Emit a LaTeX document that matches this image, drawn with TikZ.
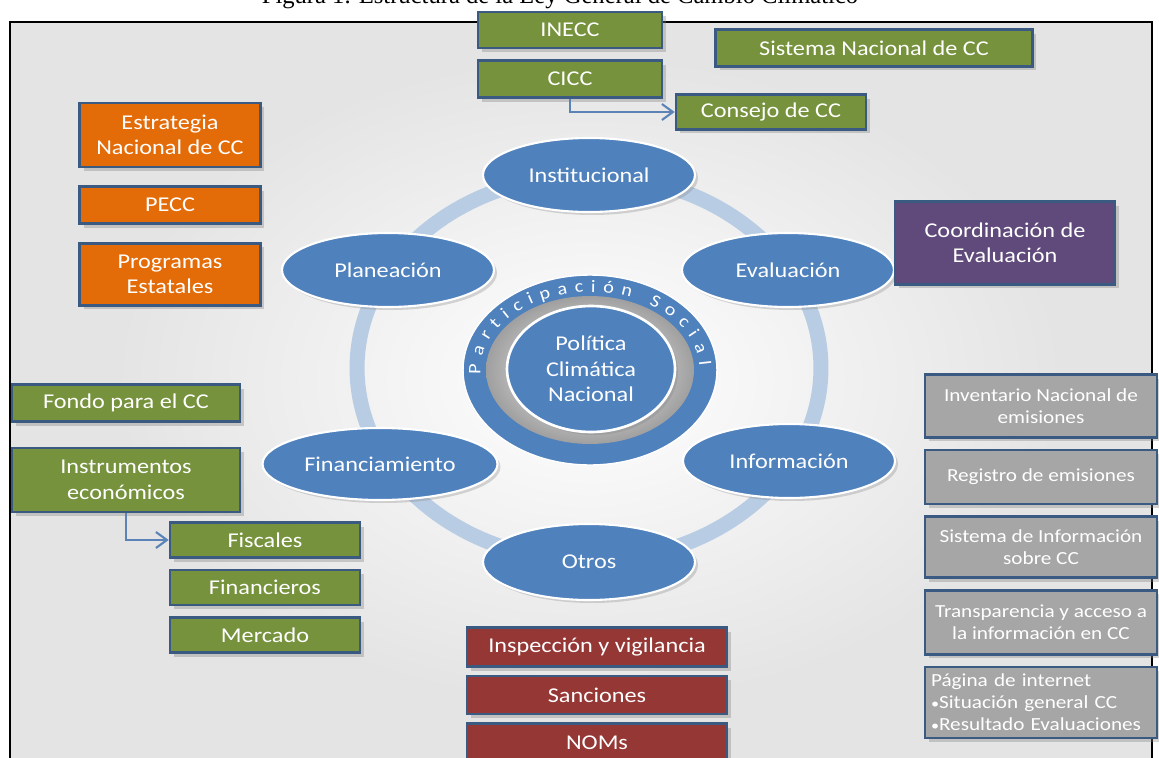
\documentclass[tikz,border=0pt,12pt]{standalone}
\usepackage{fontspec}
\setmainfont{Carlito}[FakeStretch=1.15]
\newfontfamily\captionfont{Liberation Serif}
\usetikzlibrary{positioning}
\usetikzlibrary{shapes.geometric}
\usetikzlibrary{shadows}
\usetikzlibrary{decorations.text}
\usetikzlibrary{arrows.meta}
\definecolor{lawgreen}{HTML}{76923C}
\definecolor{laworange}{HTML}{E36C09}
\definecolor{lawpurple}{HTML}{604A7B}
\definecolor{lawred}{HTML}{953735}
\definecolor{lawgray}{HTML}{A6A6A6}
\definecolor{edgeblue}{HTML}{3B5A82}
\definecolor{pillarblue}{HTML}{4F81BD}
\definecolor{ringblue}{HTML}{B8CCE4}
\definecolor{arrowblue}{HTML}{5B83B8}
\definecolor{bgray}{HTML}{E4E4E4}
\tikzset{
  box/.style={
    draw=edgeblue,
    rectangle,
    line width=1.5pt,
    text=white,
    align=center,
    inner sep=2pt,
    node font=\normalsize,
    drop shadow={shadow xshift=0.8mm,shadow yshift=-0.8mm,opacity=0.35},
  },
  institution/.style={
    box,
    fill=lawgreen,
  },
  planning/.style={
    box,
    fill=laworange,
    minimum width=3.62cm,
  },
  evaluation/.style={
    box,
    fill=lawpurple,
  },
  information/.style={
    box,
    fill=lawgray,
    minimum width=4.64cm,
    node font=\fontsize{10.5}{12.5}\selectfont,
  },
  enforcement/.style={
    box,
    fill=lawred,
    minimum width=5.2cm,
  },
  pillar/.style={
    ellipse,
    draw=white,
    fill=pillarblue,
    line width=1.2pt,
    text=white,
    minimum width=4.24cm,
    minimum height=1.48cm,
    node font=\normalsize,
    drop shadow={shadow xshift=0.6mm,shadow yshift=-0.6mm,opacity=0.3},
  },
  core/.style={
    pillar,
    minimum width=3.36cm,
    minimum height=2.52cm,
    align=center,
    line width=1.5pt,
    inner sep=0,
  },
  flow/.style={
    draw=arrowblue,
    >={Straight Barb[length=2.2mm,width=3.2mm]},
    ->,
    line width=1.2pt,
  },
  caption/.style={
    node font=\captionfont\fontsize{14}{16}\selectfont,
    inner sep=0,
  }
}

\begin{document}
\begin{tikzpicture}[x=0.02cm,y=-0.02cm]
  \useasboundingbox (0,0) rectangle (1159,757);
  \clip (0,0) rectangle (1159,757);

  \node (caption) [caption,anchor=base] at (560,4) {Figura 1. Estructura de la Ley General de Cambio Climático};

  % fondo y marco
  \fill [bgray] (10,22) rectangle (1152,790);
  \shade [inner color=white,outer color=bgray] (589,380) ellipse [x radius=9.5cm,y radius=6.5cm];
  \draw [black,line width=0.8pt] (10,790) -- (10,22) -- (1152,22) -- (1152,790);

  % anillo y centro
  \draw [ringblue,line width=0.3cm] (589,368) ellipse [x radius=4.64cm,y radius=3.86cm];
  \fill [pillarblue,draw=white,line width=0.8pt] (590,370) ellipse [x radius=2.54cm,y radius=1.9cm];
  \shade [inner color=white,outer color=gray!75] (590,370) ellipse [x radius=2.08cm,y radius=1.48cm];
  \node (core) [core] at (591,369) {Política\\Climática\\Nacional};
  \begin{scope}[shift={(590,370)},x=1cm,y=1cm]
    \path [decorate,decoration={text along path,text color=white,
      text={|\footnotesize|Participación Social},text align={fit to path}}]
      (183:2.19cm and 1.56cm) arc [start angle=183,end angle=3,x radius=2.19cm,y radius=1.56cm];
  \end{scope}

  \node (institucional)  [pillar]                  at (589,175) {Institucional};
  \node (planeacion)     [pillar]                  at (388,270) {Planeación};
  \node (evaluacion)     [pillar]                  at (788,270) {Evaluación};
  \node (financiamiento) [pillar,minimum width=4.7cm,minimum height=1.44cm] at (380,464) {Financiamiento};
  \node (informacion)    [pillar]                  at (789,461) {Información};
  \node (otros)          [pillar,minimum height=1.52cm] at (589,562) {Otros};

  % institucional
  \node (inecc)   [institution,minimum width=3.68cm,minimum height=0.72cm] at (570,30) {INECC};
  \node (cicc)    [institution,minimum width=3.68cm,minimum height=0.74cm,below=0.2cm of inecc] {CICC};
  \node (sinacc)  [institution,minimum width=6.34cm,minimum height=0.74cm] at (874,48) {Sistema Nacional de CC};
  \node (consejo) [institution,minimum width=3.8cm,minimum height=0.7cm] at (771,112) {Consejo de CC};
  \path [flow] (cicc.south) |- (consejo.west);

  % planeacion
  \node (estrategia) [planning,minimum height=1.28cm] at (170,135) {Estrategia\\Nacional de CC};
  \node (pecc)       [planning,minimum height=0.74cm,below=0.34cm of estrategia] {PECC};
  \node (programas)  [planning,minimum height=1.24cm,below=0.34cm of pecc] {Programas\\Estatales};

  % evaluacion
  \node (coordinacion) [evaluation,minimum width=4.4cm,minimum height=1.66cm] at (1005,243) {Coordinación de\\Evaluación};

  % informacion
  \node (inventario)   [information,minimum height=1.26cm] at (1041,406) {Inventario Nacional de\\emisiones};
  \node (registro)     [information,minimum height=1.08cm,below=0.2cm of inventario] {Registro de emisiones};
  \node (sistemainfo)  [information,minimum height=1.22cm,below=0.2cm of registro] {Sistema de Información\\sobre CC};
  \node (transparencia) [information,minimum height=1.28cm,below=0.2cm of sistemainfo] {Transparencia y acceso a\\la información en CC};
  \node (pagina)       [information,minimum height=1.42cm,align=left,text width=4.4cm,inner sep=1pt,below=0.2cm of transparencia] {%
    Página de internet\\
    {\scriptsize•}Situación general CC\\
    {\scriptsize•}Resultado Evaluaciones};

  % financiamiento
  \node (fondo)        [institution,minimum width=4.56cm,minimum height=0.74cm] at (126,403) {Fondo para el CC};
  \node (instrumentos) [institution,minimum width=4.56cm,minimum height=1.28cm] at (126,480) {Instrumentos\\económicos};
  \node (fiscales)     [institution,minimum width=3.8cm,minimum height=0.7cm] at (265,540) {Fiscales};
  \node (financieros)  [institution,minimum width=3.8cm,minimum height=0.7cm,below=0.2cm of fiscales] {Financieros};
  \node (mercado)      [institution,minimum width=3.8cm,minimum height=0.7cm,below=0.2cm of financieros] {Mercado};
  \path [flow] (instrumentos.south) |- (fiscales.west);

  % otros
  \node (inspeccion) [enforcement,minimum height=0.78cm] at (597,647) {Inspección y vigilancia};
  \node (sanciones)  [enforcement,minimum height=0.76cm,below=0.14cm of inspeccion] {Sanciones};
  \node (noms)       [enforcement,minimum height=0.76cm,below=0.14cm of sanciones] {NOMs};
\end{tikzpicture}
\end{document}
